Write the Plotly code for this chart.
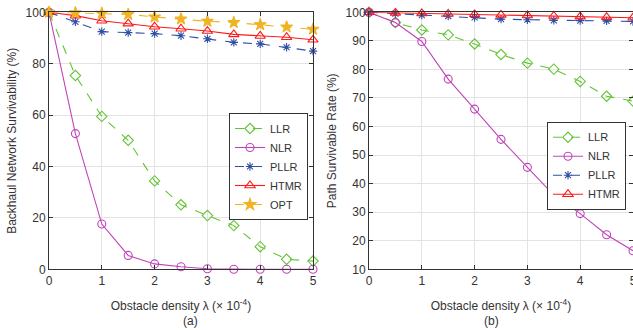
import plotly.graph_objects as go

x = [0, 0.5, 1, 1.5, 2, 2.5, 3, 3.5, 4, 4.5, 5]

# (a) Backhaul network survivability
a_llr = [100, 75.4, 59.5, 50.2, 34.4, 25.1, 20.9, 17.0, 8.8, 3.9, 3.2]
a_nlr = [100, 52.8, 17.6, 5.4, 2.1, 1.0, 0.2, 0.0, 0.0, 0.0, 0.0]
a_pllr = [100, 96.3, 92.5, 92.1, 91.7, 90.9, 89.7, 88.3, 87.7, 86.4, 84.9]
a_htmr = [100, 98.7, 96.7, 95.6, 94.4, 93.6, 92.7, 91.4, 90.8, 90.3, 89.3]
a_opt = [100, 99.8, 99.6, 99.2, 98.2, 97.4, 96.5, 96.0, 95.2, 94.3, 93.4]

# (b) Path survivable rate
b_llr = [100, 96.4, 93.8, 92.1, 88.9, 85.2, 82.2, 80.1, 75.8, 70.6, 68.9]
b_nlr = [100, 96.4, 89.8, 76.6, 66.1, 55.5, 45.7, 36.0, 29.5, 22.1, 16.5]
b_pllr = [100, 99.5, 99.0, 98.7, 98.2, 97.6, 97.4, 97.2, 97.1, 97.0, 96.8]
b_htmr = [100, 99.8, 99.6, 99.4, 99.3, 99.1, 98.9, 98.7, 98.5, 98.3, 98.1]

names = ["LLR", "NLR", "PLLR", "HTMR", "OPT"]
colors = {"LLR": "#62c435", "NLR": "#c044b8", "PLLR": "#2e4fa5", "HTMR": "#ff1a1a", "OPT": "#f0b323"}
dashes = {"LLR": "dash", "NLR": "solid", "PLLR": "dash", "HTMR": "solid", "OPT": "dash"}
symbols = {"LLR": "diamond-open", "NLR": "circle-open", "PLLR": "asterisk-open", "HTMR": "triangle-up-open", "OPT": "star"}
msize = {"LLR": 8, "NLR": 8, "PLLR": 7, "HTMR": 9, "OPT": 9}

fig = go.Figure()

def add(name, ys, xa, ya, leg):
    c = colors[name]
    marker = dict(symbol=symbols[name], size=msize[name], color=c, line=dict(color=c, width=1.1))
    fig.add_trace(go.Scatter(x=x, y=ys, mode="lines+markers", name=name,
                             line=dict(color=c, width=1.1, dash=dashes[name]),
                             marker=marker, xaxis=xa, yaxis=ya, legend=leg,
                             showlegend=True, cliponaxis=False))

for n, ys in zip(names, [a_llr, a_nlr, a_pllr, a_htmr, a_opt]):
    add(n, ys, "x", "y", "legend")
for n, ys in zip(names[:4], [b_llr, b_nlr, b_pllr, b_htmr]):
    add(n, ys, "x2", "y2", "legend2")

W, H = 633, 330
ytop, ybot = 12.3, 269.3
ydom = [(H - ybot) / H, (H - ytop) / H]

FF = "Liberation Sans, Arial, sans-serif"
TC = "#333333"
tickfont = dict(family=FF, size=12, color=TC)
axcommon = dict(showline=True, linecolor=TC, linewidth=1, mirror="ticks",
                ticks="inside", ticklen=4, tickcolor=TC, showgrid=True,
                gridcolor="#e3e3e3", gridwidth=1, zeroline=False, tickfont=tickfont,
                automargin=False, ticklabeloverflow="allow")

xtitle = dict(text="Obstacle density λ (× 10<sup>-4</sup>)", font=dict(family=FF, size=12, color=TC), standoff=14)
legcommon = dict(xanchor="right", yanchor="top", bgcolor="white", bordercolor=TC, borderwidth=1,
                 font=dict(family=FF, size=11, color=TC), itemwidth=30, tracegroupgap=0)

fig.update_layout(
    width=W, height=H,
    margin=dict(l=0, r=0, t=0, b=0),
    paper_bgcolor="white", plot_bgcolor="white",
    font=dict(family=FF, size=12, color=TC),
    xaxis=dict(domain=[49 / W, 313 / W], range=[0, 5], dtick=1, anchor="y", title=xtitle, **axcommon),
    yaxis=dict(domain=ydom, range=[0, 100], dtick=20, anchor="x",
               title=dict(text="Backhaul Network Survivability (%)", font=dict(family=FF, size=12, color=TC), standoff=6), **axcommon),
    xaxis2=dict(domain=[369 / W, 1.0], range=[0, 5], dtick=1, anchor="y2", title=xtitle, **axcommon),
    yaxis2=dict(domain=ydom, range=[10, 100], dtick=10, anchor="x2",
                title=dict(text="Path Survivable Rate (%)", font=dict(family=FF, size=12, color=TC), standoff=6), **axcommon),
    legend=dict(x=308 / W, y=(H - 113) / H, **legcommon),
    legend2=dict(x=626 / W, y=(H - 121.7) / H, **legcommon),
    annotations=[
        dict(text="(a)", x=(49 + 313) / 2 / W, y=(H - 330) / H, xref="paper", yref="paper",
             showarrow=False, font=dict(family=FF, size=12, color=TC), yanchor="bottom"),
        dict(text="(b)", x=(369 + 633) / 2 / W, y=(H - 330) / H, xref="paper", yref="paper",
             showarrow=False, font=dict(family=FF, size=12, color=TC), yanchor="bottom"),
    ],
)

fig.write_html("out.html", config={"displayModeBar": False},
               post_script="document.body.style.margin='0';document.body.style.overflow='hidden';")
